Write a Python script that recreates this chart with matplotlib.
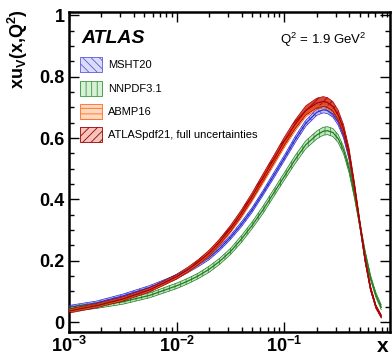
import numpy as np
import matplotlib
matplotlib.use("Agg")
import matplotlib.pyplot as plt
from matplotlib.patches import Patch
from matplotlib.ticker import FixedLocator, NullFormatter

plt.rcParams['font.family'] = ['Liberation Sans', 'DejaVu Sans']
plt.rcParams['mathtext.fontset'] = 'custom'
plt.rcParams['mathtext.rm'] = 'Liberation Sans'
plt.rcParams['mathtext.bf'] = 'Liberation Sans:bold'
plt.rcParams['mathtext.it'] = 'Liberation Sans:italic'
plt.rcParams['hatch.linewidth'] = 0.6

# ---- data ----
x = [0.001, 0.00178, 0.00316, 0.00562, 0.01, 0.0126, 0.0158, 0.02, 0.0251, 0.0316,
     0.0398, 0.0501, 0.0631, 0.0794, 0.1, 0.126, 0.158, 0.2, 0.229, 0.251,
     0.282, 0.316, 0.355, 0.398, 0.447, 0.501, 0.562, 0.631, 0.708, 0.794]

msht20 = [0.048, 0.062, 0.085, 0.113, 0.148, 0.166, 0.186, 0.210, 0.240, 0.276,
          0.318, 0.365, 0.420, 0.477, 0.535, 0.595, 0.648, 0.684, 0.692, 0.690,
          0.678, 0.652, 0.608, 0.540, 0.435, 0.318, 0.202, 0.108, 0.050, 0.018]
msht20_err = [0.006, 0.006, 0.006, 0.006, 0.006, 0.006, 0.006, 0.007, 0.007, 0.007,
              0.008, 0.008, 0.008, 0.009, 0.009, 0.010, 0.010, 0.010, 0.010, 0.010,
              0.010, 0.010, 0.009, 0.009, 0.008, 0.007, 0.006, 0.005, 0.004, 0.004]

nnpdf31 = [0.042, 0.052, 0.066, 0.087, 0.118, 0.133, 0.150, 0.172, 0.198, 0.230,
           0.270, 0.315, 0.365, 0.420, 0.475, 0.530, 0.578, 0.610, 0.622, 0.624,
           0.618, 0.598, 0.560, 0.500, 0.415, 0.320, 0.225, 0.145, 0.088, 0.048]
nnpdf31_err = [0.008, 0.008, 0.008, 0.008, 0.009, 0.009, 0.009, 0.010, 0.010, 0.010,
               0.011, 0.011, 0.012, 0.012, 0.012, 0.013, 0.013, 0.013, 0.013, 0.013,
               0.013, 0.013, 0.012, 0.012, 0.011, 0.010, 0.009, 0.008, 0.008, 0.008]

abmp16 = [0.038, 0.054, 0.075, 0.104, 0.145, 0.166, 0.190, 0.219, 0.255, 0.297,
          0.346, 0.400, 0.459, 0.518, 0.577, 0.632, 0.678, 0.702, 0.707, 0.705,
          0.693, 0.666, 0.621, 0.550, 0.442, 0.323, 0.204, 0.110, 0.050, 0.018]
abmp16_err = [0.005, 0.005, 0.005, 0.005, 0.005, 0.005, 0.006, 0.006, 0.006, 0.006,
              0.007, 0.007, 0.008, 0.008, 0.008, 0.009, 0.009, 0.009, 0.009, 0.009,
              0.009, 0.009, 0.008, 0.008, 0.007, 0.006, 0.005, 0.005, 0.004, 0.004]

atlas21 = [0.036, 0.053, 0.075, 0.105, 0.148, 0.170, 0.195, 0.225, 0.262, 0.305,
           0.355, 0.410, 0.470, 0.530, 0.590, 0.645, 0.690, 0.714, 0.719, 0.716,
           0.703, 0.675, 0.628, 0.555, 0.445, 0.325, 0.205, 0.110, 0.050, 0.018]
atlas21_err = [0.007, 0.007, 0.007, 0.007, 0.008, 0.008, 0.008, 0.009, 0.009, 0.010,
               0.010, 0.011, 0.012, 0.012, 0.013, 0.014, 0.015, 0.016, 0.016, 0.016,
               0.016, 0.016, 0.015, 0.014, 0.012, 0.010, 0.008, 0.007, 0.006, 0.005]

labels = ['MSHT20', 'NNPDF3.1', 'ABMP16', 'ATLASpdf21, full uncertainties']
yticks = [0, 0.2, 0.4, 0.6, 0.8, 1.0]
ytick_labels = ['0', '0.2', '0.4', '0.6', '0.8', '1']
xticks = [1e-3, 1e-2, 1e-1]
xtick_labels = [r'$\mathbf{10^{-3}}$', r'$\mathbf{10^{-2}}$', r'$\mathbf{10^{-1}}$']

# styles: (fill, hatch colour, line colour, hatch)
styles = [
    ('#c4c4f4', '#5a5ae0', '#2a2ad0', '\\\\\\\\'),
    ('#c2e6c2', '#3c9a3c', '#1f7a1f', '|||'),
    ('#ffc8a8', '#ff6a20', '#f05a10', '---'),
    ('#d84a40', '#9a0000', '#a80000', '////'),
]
legend_fill = ['#dcdcf8', '#d8efd8', '#ffd8c0', '#f4c4bc']
series = [(msht20, msht20_err), (nnpdf31, nnpdf31_err), (abmp16, abmp16_err), (atlas21, atlas21_err)]

fig = plt.figure(figsize=(3.92, 3.58), dpi=100)
ax = fig.add_axes([69/392, 26.3/358, 321/392, 319.4/358])

xa = np.array(x)
for (c, e), (fc, hc, lc, h) in zip(series, styles):
    c = np.array(c); e = np.array(e)
    ax.fill_between(xa, c - e, c + e, facecolor=fc, edgecolor=hc, hatch=h, linewidth=0, zorder=2)
    ax.plot(xa, c - e, color=lc, lw=0.5, zorder=3)
    ax.plot(xa, c + e, color=lc, lw=0.5, zorder=3)
    ax.plot(xa, c, color=lc, lw=0.9, zorder=3)

ax.set_xscale('log')
ax.set_xlim(1e-3, 0.957)
ax.set_ylim(-0.0316, 1.010)

ax.xaxis.set_major_locator(FixedLocator(xticks))
ax.set_xticklabels(xtick_labels)
minors = [m * 10.0**d for d in (-3, -2, -1) for m in range(2, 10)]
ax.xaxis.set_minor_locator(FixedLocator(minors))
ax.xaxis.set_minor_formatter(NullFormatter())
ax.yaxis.set_major_locator(FixedLocator(yticks))
ax.set_yticklabels(ytick_labels)
ax.yaxis.set_minor_locator(FixedLocator(np.arange(0, 1.01, 0.05)))

ax.tick_params(which='both', direction='in', top=True, right=True, width=1.0)
ax.tick_params(which='major', length=7, labelsize=13, pad=3)
ax.tick_params(which='minor', length=3.5)
for lab in ax.get_yticklabels():
    lab.set_fontweight('bold')
for sp in ax.spines.values():
    sp.set_linewidth(1.8)

ax.text(0.978, -0.045, 'x', transform=ax.transAxes, fontsize=15, fontweight='bold',
        ha='center', va='center')
ax.text(-0.159, 0.885, r'xu$_\mathbf{V}$(x,Q$^\mathbf{2}$)', transform=ax.transAxes,
        fontsize=13, fontweight='bold', rotation=90, ha='center', va='center')

ax.text(0.040, 0.919, 'ATLAS', transform=ax.transAxes, fontsize=14, fontweight='bold',
        fontstyle='italic', ha='left', va='center')
ax.text(0.657, 0.913, r'Q$^2$ = 1.9 GeV$^2$', transform=ax.transAxes, fontsize=9.5,
        ha='left', va='center')

handles = [Patch(facecolor=lf, edgecolor=hc, hatch=h, linewidth=0.6, label=lab)
           for lf, (fc, hc, lc, h), lab in zip(legend_fill, styles, labels)]
leg = ax.legend(handles=handles, loc='upper left', bbox_to_anchor=(0.02, 0.873),
                frameon=False, fontsize=8, handlelength=2.0, handleheight=1.7,
                labelspacing=0.75, handletextpad=0.5, borderaxespad=0.0)

fig.savefig('out.png', dpi=100)
